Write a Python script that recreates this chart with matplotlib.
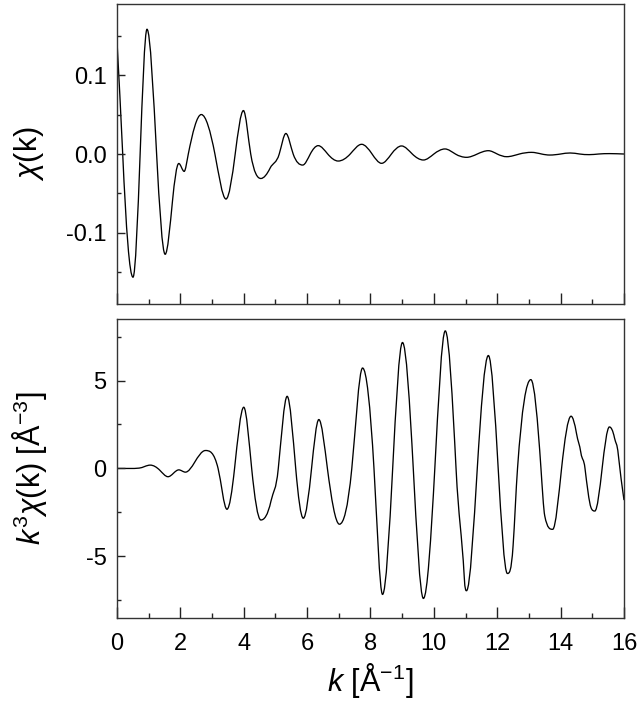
import numpy as np
import matplotlib
matplotlib.use("Agg")
import matplotlib.pyplot as plt
from matplotlib.path import Path
from matplotlib.patches import PathPatch
from matplotlib.ticker import MultipleLocator, FormatStrFormatter

plt.rcParams['font.family'] = ['Liberation Sans', 'DejaVu Sans']
plt.rcParams['mathtext.fontset'] = 'custom'
plt.rcParams['mathtext.rm'] = 'Liberation Sans'
plt.rcParams['mathtext.it'] = 'Liberation Sans:italic'
plt.rcParams['axes.unicode_minus'] = False

# chi(k): extrema and zero crossings
k_chi = [0.0, 0.18, 0.505, 0.73, 0.947, 1.25, 1.52, 1.75, 1.95, 2.12, 2.25,
         2.66, 3.09, 3.44, 3.73, 3.99, 4.22, 4.54, 4.83, 5.12, 5.33, 5.56,
         5.86, 6.1, 6.35, 6.65, 6.98, 7.36, 7.72, 8.05, 8.35, 8.66, 8.98,
         9.32, 9.67, 10.0, 10.35, 10.68, 11.03, 11.37, 11.72, 12.0, 12.3,
         12.7, 13.08, 13.4, 13.66, 14.0, 14.3, 14.6, 14.9, 15.2, 15.55, 16.0]
chi = [0.143, 0.0, -0.156, 0.0, 0.158, 0.0, -0.127, -0.06, -0.012, -0.022, 0.0,
       0.050, 0.0, -0.057, 0.0, 0.055, 0.0, -0.031, -0.018, 0.0, 0.026, 0.0,
       -0.014, 0.0, 0.0106, 0.0, -0.0089, 0.0, 0.0123, 0.0, -0.0118, 0.0, 0.0102,
       0.0, -0.0076, 0.0, 0.0064, 0.0, -0.0042, 0.0, 0.0042, 0.0, -0.0034,
       0.0, 0.0021, 0.0, -0.0013, 0.0, 0.0013, 0.0, -0.0008, 0.0, 0.0005, 0.0]

# k^3 chi(k)
k_k3 = [0.0, 0.4, 0.7, 1.05, 1.35, 1.61, 1.95, 2.16, 2.45, 2.79, 3.19, 3.47,
        3.71, 4.0, 4.25, 4.54, 4.86, 5.09, 5.37, 5.64, 5.88, 6.14, 6.37, 6.64,
        7.02, 7.41, 7.75, 8.11, 8.38, 8.70, 9.01, 9.35, 9.67, 10.03, 10.36,
        10.7, 10.96, 11.03, 11.37, 11.72, 12.03, 12.32, 12.5, 12.64, 13.06,
        13.38, 13.5, 13.75, 14.03, 14.33, 14.5, 14.64, 14.77, 14.96, 15.08,
        15.31, 15.54, 15.7, 15.82, 16.0]
k3chi = [0.0, 0.0, 0.02, 0.19, -0.1, -0.47, -0.08, -0.21, 0.35, 1.02, 0.0, -2.32,
         0.0, 3.48, 0.0, -2.93, -1.85, 0.0, 4.10, 0.0, -2.83, 0.0, 2.78, 0.0,
         -3.17, 0.0, 5.71, 0.0, -7.16, 0.0, 7.16, 0.0, -7.39, 0.0, 7.82,
         0.0, -6.2, -6.95, 0.0, 6.42, 0.0, -5.97, -4.4, 0.0, 5.05,
         0.0, -2.7, -3.46, 0.0, 2.97, 2.0, 0.89, 0.0, -2.23, -2.42,
         0.0, 2.36, 1.74, 0.79, -1.8]


def smooth_curve(ax, xs, ys, **kw):
    # draw a smooth line through the read points as bezier segments
    xs = np.asarray(xs, float)
    ys = np.asarray(ys, float)
    n = len(xs)
    sec = np.diff(ys) / np.diff(xs)
    m = np.zeros(n)
    m[0] = sec[0]
    m[-1] = sec[-1]
    for i in range(1, n - 1):
        if sec[i - 1] * sec[i] <= 0:
            m[i] = 0.0  # turning point
        else:
            d = 1.5 * (ys[i + 1] - ys[i - 1]) / (xs[i + 1] - xs[i - 1])
            lim = 3 * min(abs(sec[i - 1]), abs(sec[i]))
            m[i] = np.sign(d) * min(abs(d), lim)
    verts = [(xs[0], ys[0])]
    codes = [Path.MOVETO]
    for i in range(n - 1):
        h = xs[i + 1] - xs[i]
        verts += [(xs[i] + h / 3, ys[i] + m[i] * h / 3),
                  (xs[i + 1] - h / 3, ys[i + 1] - m[i + 1] * h / 3),
                  (xs[i + 1], ys[i + 1])]
        codes += [Path.CURVE4] * 3
    ax.add_patch(PathPatch(Path(verts, codes), fill=False, transform=ax.transData, **kw))


fig = plt.figure(figsize=(6.39, 7.14), dpi=100)
ax1 = fig.add_axes([0.1831, 0.5742, 0.7934, 0.4202])
ax2 = fig.add_axes([0.1831, 0.1345, 0.7934, 0.4188])

smooth_curve(ax1, k_chi, chi, color='black', lw=0.95)
smooth_curve(ax2, k_k3, k3chi, color='black', lw=0.95)

for ax in (ax1, ax2):
    ax.set_xlim(0, 16)
    ax.xaxis.set_major_locator(MultipleLocator(2))
    ax.xaxis.set_minor_locator(MultipleLocator(1))
    ax.tick_params(axis='both', which='both', direction='in', top=False, right=False,
                   labelsize=17, width=1.0, color='#222222')
    ax.tick_params(axis='x', which='major', length=8, pad=11)
    ax.tick_params(axis='x', which='minor', length=3.5)
    ax.tick_params(axis='y', which='major', length=6, pad=7.5)
    ax.tick_params(axis='y', which='minor', length=3)
    for s in ax.spines.values():
        s.set_linewidth(1.0)
        s.set_color('#333333')

ax1.set_ylim(-0.19, 0.19)
ax1.yaxis.set_major_locator(MultipleLocator(0.1))
ax1.yaxis.set_minor_locator(MultipleLocator(0.05))
ax1.yaxis.set_major_formatter(FormatStrFormatter('%.1f'))
ax1.tick_params(axis='x', labelbottom=False)
ax1.set_ylabel(r'$\chi$(k)', fontsize=22)
ax1.yaxis.set_label_coords(-0.14, 0.5)

ax2.set_ylim(-8.5, 8.5)
ax2.yaxis.set_major_locator(MultipleLocator(5))
ax2.yaxis.set_minor_locator(MultipleLocator(2.5))
ax2.set_ylabel(r'$k^3\chi$(k) [Å$^{-3}$]', fontsize=22)
ax2.yaxis.set_label_coords(-0.135, 0.5)
ax2.set_xlabel('$k$ [Å$^{-1}$]', fontsize=22, labelpad=4)

fig.savefig('out.png', dpi=100)
